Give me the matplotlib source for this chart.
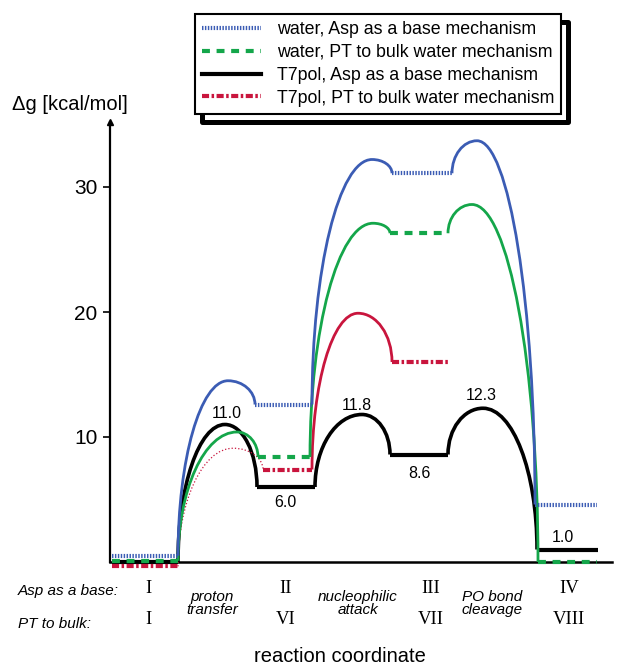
import numpy as np
import matplotlib
matplotlib.use("Agg")
import matplotlib.pyplot as plt
from matplotlib.path import Path
from matplotlib.patches import PathPatch, Rectangle
from matplotlib.lines import Line2D

plt.rcParams['font.family'] = ['Liberation Sans', 'DejaVu Sans']

# stationary points: plateau start/end (reaction coordinate), plateau energy, TS position, TS energy
blue_start = [0.2, 14.5, 28.2, 42.5]
blue_end = [6.8, 20.2, 34.2, 48.7]
blue_g = [0.5, 12.6, 31.1, 4.6]
blue_ts_x = [11.8, 26.2, 36.7]
blue_ts_g = [14.5, 32.2, 33.7]

green_start = [0.2, 14.8, 28.0, 42.8]
green_end = [6.8, 20.0, 33.8, 48.7]
green_g = [0.1, 8.4, 26.3, 0.0]
green_ts_x = [12.7, 26.3, 36.2]
green_ts_g = [10.4, 27.1, 28.6]

black_start = [0.2, 14.7, 28.0, 42.7]
black_end = [6.8, 20.5, 33.8, 48.8]
black_g = [0.0, 6.0, 8.6, 1.0]
black_ts_x = [11.5, 25.2, 37.3]
black_ts_g = [11.0, 11.8, 12.3]

red_start = [0.2, 15.3, 28.2]
red_end = [6.8, 20.2, 34.0]
red_g = [-0.35, 7.4, 16.0]
red_ts_x = [12.3, 24.8]
red_ts_g = [9.1, 19.9]

legend_labels = ["water, Asp as a base mechanism",
                 "water, PT to bulk water mechanism",
                 "T7pol, Asp as a base mechanism",
                 "T7pol, PT to bulk water mechanism"]

value_labels = ["11.0", "6.0", "11.8", "8.6", "12.3", "1.0"]
value_x = [11.7, 17.5, 24.7, 30.9, 37.1, 45.3]
value_y = [11.85, 4.75, 12.55, 7.1, 13.35, 2.0]

asp_states = ["I", "II", "III", "IV"]
pt_states = ["I", "VI", "VII", "VIII"]
state_x = [3.8, 17.6, 32.1, 45.9]
steps = ["proton\ntransfer", "nucleophilic\nattack", "PO bond\ncleavage"]
step_x = [10.2, 24.8, 38.2]

BLUE = '#3b5cb4'
GREEN = '#14a64a'
RED = '#c9153d'

fig = plt.figure(figsize=(6.19, 6.67), dpi=100)
ax = fig.add_axes([110/619, 105/667, 502/619, 440/667])
ax.set_xlim(0, 50.2)
ax.set_ylim(0, 35.2)


def hump(ax, x0, y0, xp, yp, x1, y1, **kw):
    # two quarter-ellipse-like bezier arcs: plateau end -> TS -> next plateau start
    k = 0.5523
    verts = [(x0, y0), (x0, y0 + k*(yp-y0)), (xp - k*(xp-x0), yp), (xp, yp),
             (xp + k*(x1-xp), yp), (x1, y1 + k*(yp-y1)), (x1, y1)]
    codes = [Path.MOVETO] + [Path.CURVE4]*6
    ax.add_patch(PathPatch(Path(verts, codes), fill=False, clip_on=False,
                           capstyle='butt', **kw))


def profile(ax, starts, ends, g, ts_x, ts_g, color, clw, pls, plw, z, first_ls='-', first_lw=None):
    for i in range(len(ts_x)):
        ls = first_ls if i == 0 else '-'
        lw = first_lw if (i == 0 and first_lw) else clw
        hump(ax, ends[i], g[i], ts_x[i], ts_g[i], starts[i+1], g[i+1],
             edgecolor=color, lw=lw, ls=ls, zorder=z)
    for s, e, y in zip(starts, ends, g):
        ax.plot([s, e], [y, y], color=color, lw=plw, ls=pls, zorder=z+0.5,
                clip_on=False, solid_capstyle='butt', dash_capstyle='butt')


blue_ls = (0, (0.35, 0.35))
green_ls = (0, (1.9, 1.6))
red_ls = (0, (1.7, 0.6, 0.6, 0.6))

profile(ax, black_start, black_end, black_g, black_ts_x, black_ts_g, 'k', 2.6, '-', 3.0, 2)
profile(ax, red_start, red_end, red_g, red_ts_x, red_ts_g, RED, 2.0, red_ls, 3.0, 3,
        first_ls=':', first_lw=0.9)
profile(ax, green_start, green_end, green_g, green_ts_x, green_ts_g, GREEN, 2.0, green_ls, 3.0, 4)
profile(ax, blue_start, blue_end, blue_g, blue_ts_x, blue_ts_g, BLUE, 2.0, blue_ls, 3.0, 5)

# axes styling
for sp in ['top', 'right']:
    ax.spines[sp].set_visible(False)
ax.spines['left'].set_linewidth(1.6)
ax.spines['bottom'].set_linewidth(1.8)
ax.set_xticks([])
ax.set_yticks([10, 20, 30])
ax.tick_params(axis='y', direction='out', length=5, width=1.2, pad=4, labelsize=15)
ax.plot([0], [1], marker='^', ms=4, color='k', transform=ax.transAxes, clip_on=False)

ax.text(-9.8, 36.6, "\u0394g [kcal/mol]", fontsize=14.5, ha='left', va='center', clip_on=False)

for s, x, y in zip(value_labels, value_x, value_y):
    ax.text(x, y, s, fontsize=11.5, ha='center', va='center')

ax.text(-9.2, -2.3, "Asp as a base:", fontsize=11, style='italic', ha='left', va='center')
ax.text(-9.2, -4.95, "PT to bulk:", fontsize=11, style='italic', ha='left', va='center')
for s, x in zip(asp_states, state_x):
    ax.text(x, -2.15, s, fontsize=13.5, family='Liberation Serif', ha='center', va='center')
for s, x in zip(pt_states, state_x):
    ax.text(x, -4.6, s, fontsize=13.5, family='Liberation Serif', ha='center', va='center')
for s, x in zip(steps, step_x):
    ax.text(x, -3.3, s, fontsize=11, style='italic', ha='center', va='center', linespacing=0.95)
ax.text(23.0, -7.6, "reaction coordinate", fontsize=14.5, ha='center', va='center')

handles = [Line2D([], [], color=BLUE, lw=3.0, ls=blue_ls),
           Line2D([], [], color=GREEN, lw=3.0, ls=green_ls),
           Line2D([], [], color='k', lw=3.0),
           Line2D([], [], color=RED, lw=3.0, ls=red_ls)]
leg = fig.legend(handles, legend_labels, loc='upper left', bbox_to_anchor=(195/619, 1-14/667),
                 borderaxespad=0, fontsize=12.8, handlelength=3.3, handletextpad=0.9,
                 labelspacing=0.33, borderpad=0.4, fancybox=False, framealpha=1,
                 edgecolor='k')
leg.get_frame().set_linewidth(1.5)

fig.canvas.draw()
bb = leg.get_window_extent().transformed(fig.transFigure.inverted())
shadow = Rectangle((bb.x0 + 7/619, bb.y0 - 8/667), bb.width, bb.height, fill=False,
                   edgecolor='k', lw=3.6, joinstyle='round', transform=fig.transFigure, zorder=4)
fig.add_artist(shadow)

fig.savefig('out.png', dpi=100)
